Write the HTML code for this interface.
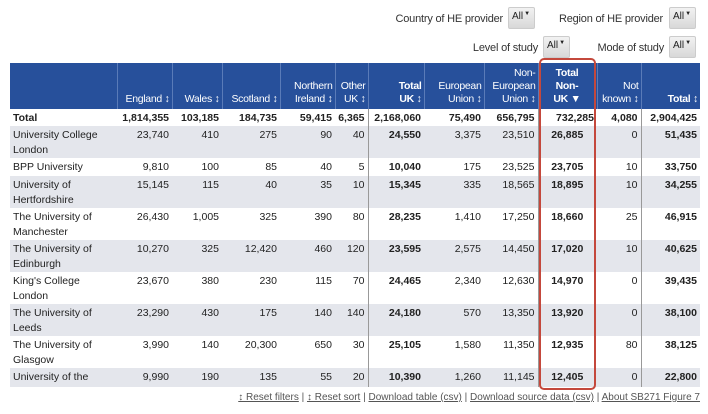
<!DOCTYPE html>
<html><head><meta charset="utf-8">
<style>
body{margin:0;width:708px;height:414px;background:#fff;font-family:"Liberation Sans",Arial,sans-serif;position:relative;overflow:hidden;color:#222}
.lbl{position:absolute;font-size:11px;color:#333;white-space:nowrap;letter-spacing:-0.2px}
.dd{position:absolute;width:27px;height:22px;background:linear-gradient(#f2f2f2,#d8d8d8);border:1px solid #ccc;border-radius:2px;box-sizing:border-box;font-size:10px;padding:3px 0 0 3px;color:#222}
.dd span{font-size:6px;vertical-align:top;margin-left:1px}
table{position:absolute;left:10px;top:63px;border-collapse:collapse;table-layout:fixed;width:690px;font-size:10.5px}
th{background:#27509b;color:#fff;font-weight:normal;text-align:right;vertical-align:bottom;padding:0 2px 3px 1px;border-left:1px solid #5a7bb8;line-height:13px;height:43px;white-space:nowrap;letter-spacing:-0.3px}
th.b{font-weight:bold}
td{text-align:right;vertical-align:top;padding:2px 3px 0 2px;line-height:15px}
td.n{text-align:left;padding-left:3px}
tr.g td{background:#e4e6ec}
tr.t td{font-weight:bold;background:#fff;height:14px}
td.b{font-weight:bold}
td.s{border-right:1px solid #999}
.box{position:absolute;left:539px;top:58px;width:57px;height:332px;border:2px solid #c4483c;border-radius:5px;box-sizing:border-box}
.foot{position:absolute;right:8px;top:392px;font-size:10px;color:#555}
.foot a{color:#555;text-decoration:underline}
</style></head><body>
<div class="lbl" style="right:205px;top:13px">Country of HE provider</div>
<div class="dd" style="left:508px;top:7px">All<span>▼</span></div>
<div class="lbl" style="right:45px;top:13px">Region of HE provider</div>
<div class="dd" style="left:669px;top:7px">All<span>▼</span></div>
<div class="lbl" style="right:170px;top:42px">Level of study</div>
<div class="dd" style="left:543px;top:36px">All<span>▼</span></div>
<div class="lbl" style="right:44px;top:42px">Mode of study</div>
<div class="dd" style="left:669px;top:36px">All<span>▼</span></div>

<table>
<colgroup><col style="width:107px"><col style="width:55px"><col style="width:50px"><col style="width:58px"><col style="width:55px"><col style="width:33px"><col style="width:56px"><col style="width:60px"><col style="width:54px"><col style="width:59px"><col style="width:44px"><col style="width:59px"></colgroup>
<tr>
<th style="border-left:none"></th>
<th>England ↕</th>
<th>Wales ↕</th>
<th>Scotland ↕</th>
<th>Northern<br>Ireland ↕</th>
<th>Other<br>UK ↕</th>
<th class="b">Total<br>UK ↕</th>
<th>European<br>Union ↕</th>
<th>Non-<br>European<br>Union ↕</th>
<th class="b" style="text-align:center">Total<br>Non-<br>UK ▼</th>
<th>Not<br>known ↕</th>
<th class="b">Total ↕</th>
</tr>
<tr class="t"><td class="n">Total</td><td>1,814,355</td><td>103,185</td><td>184,735</td><td>59,415</td><td class="s">6,365</td><td>2,168,060</td><td>75,490</td><td class="s">656,795</td><td>732,285</td><td class="s">4,080</td><td>2,904,425</td></tr>
<tr class="g" style="height:32px"><td class="n">University College London</td><td>23,740</td><td>410</td><td>275</td><td>90</td><td class="s">40</td><td class="b">24,550</td><td>3,375</td><td class="s">23,510</td><td class="b" style="text-align:center">26,885</td><td class="s">0</td><td class="b">51,435</td></tr>
<tr style="height:18px"><td class="n">BPP University</td><td>9,810</td><td>100</td><td>85</td><td>40</td><td class="s">5</td><td class="b">10,040</td><td>175</td><td class="s">23,525</td><td class="b" style="text-align:center">23,705</td><td class="s">10</td><td class="b">33,750</td></tr>
<tr class="g" style="height:32px"><td class="n">University of Hertfordshire</td><td>15,145</td><td>115</td><td>40</td><td>35</td><td class="s">10</td><td class="b">15,345</td><td>335</td><td class="s">18,565</td><td class="b" style="text-align:center">18,895</td><td class="s">10</td><td class="b">34,255</td></tr>
<tr style="height:32px"><td class="n">The University of Manchester</td><td>26,430</td><td>1,005</td><td>325</td><td>390</td><td class="s">80</td><td class="b">28,235</td><td>1,410</td><td class="s">17,250</td><td class="b" style="text-align:center">18,660</td><td class="s">25</td><td class="b">46,915</td></tr>
<tr class="g" style="height:30px"><td class="n">The University of Edinburgh</td><td>10,270</td><td>325</td><td>12,420</td><td>460</td><td class="s">120</td><td class="b">23,595</td><td>2,575</td><td class="s">14,450</td><td class="b" style="text-align:center">17,020</td><td class="s">10</td><td class="b">40,625</td></tr>
<tr style="height:32px"><td class="n">King's College London</td><td>23,670</td><td>380</td><td>230</td><td>115</td><td class="s">70</td><td class="b">24,465</td><td>2,340</td><td class="s">12,630</td><td class="b" style="text-align:center">14,970</td><td class="s">0</td><td class="b">39,435</td></tr>
<tr class="g" style="height:32px"><td class="n">The University of Leeds</td><td>23,290</td><td>430</td><td>175</td><td>140</td><td class="s">140</td><td class="b">24,180</td><td>570</td><td class="s">13,350</td><td class="b" style="text-align:center">13,920</td><td class="s">0</td><td class="b">38,100</td></tr>
<tr style="height:30px"><td class="n">The University of Glasgow</td><td>3,990</td><td>140</td><td>20,300</td><td>650</td><td class="s">30</td><td class="b">25,105</td><td>1,580</td><td class="s">11,350</td><td class="b" style="text-align:center">12,935</td><td class="s">80</td><td class="b">38,125</td></tr>
<tr class="g" style="height:19px"><td class="n">University of the</td><td>9,990</td><td>190</td><td>135</td><td>55</td><td class="s">20</td><td class="b">10,390</td><td>1,260</td><td class="s">11,145</td><td class="b" style="text-align:center">12,405</td><td class="s">0</td><td class="b">22,800</td></tr>
</table>
<div class="box"></div>
<div class="foot"><a>↕ Reset filters</a> | <a>↕ Reset sort</a> | <a>Download table (csv)</a> | <a>Download source data (csv)</a> | <a>About SB271 Figure 7</a></div>
</body></html>
